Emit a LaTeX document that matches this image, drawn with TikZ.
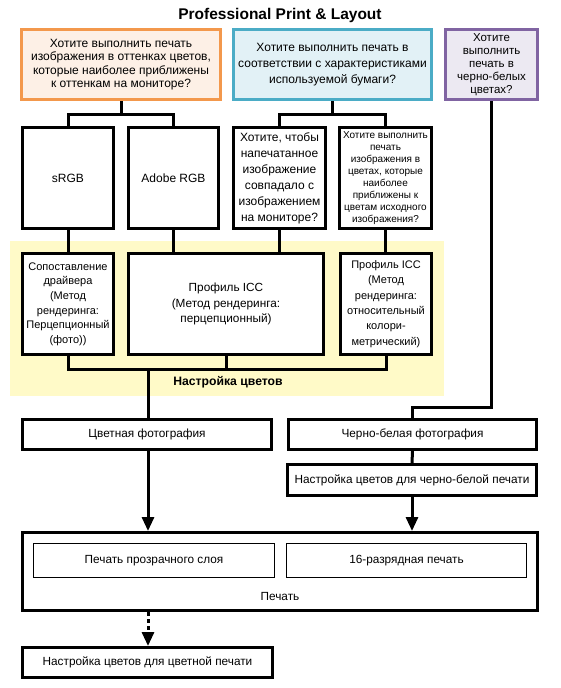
\documentclass[tikz,border=0pt]{standalone}
\usepackage{fontspec}
\setmainfont{Liberation Sans}
\usetikzlibrary{arrows.meta,positioning,calc}
\definecolor{orline}{RGB}{243,152,76}
\definecolor{orfill}{RGB}{253,240,230}
\definecolor{blline}{RGB}{75,172,198}
\definecolor{blfill}{RGB}{226,241,246}
\definecolor{puline}{RGB}{128,100,162}
\definecolor{pufill}{RGB}{236,233,242}
\definecolor{ylfill}{RGB}{255,250,200}
\tikzset{
  box/.style = {draw=black, line width=3pt, fill=white, align=center,
    inner sep=0pt, font=\fontsize{12}{13.3}\selectfont},
  qbox/.style = {box, minimum height=70pt},% question box, colour given
  tallbox/.style = {box, minimum height=101pt},% upper rows
  flatbox/.style = {box, minimum height=30pt, font=\fontsize{11.8}{13}\selectfont},
  thinbox/.style = {draw=black, line width=1pt, align=center,
    minimum height=34pt, font=\fontsize{11.8}{13}\selectfont},
  conn/.style = {draw=black, line width=3pt}
}
\begin{document}
\begin{tikzpicture}[x=1pt,y=-1pt,>={Triangle[width=12pt,length=14pt]}]
  \useasboundingbox (0,0) rectangle (560,688);
  \fill[ylfill] (10,241) rectangle (444,396);
  \node[font=\fontsize{15.5}{17}\selectfont\bfseries] (title) at (280,15) {Professional Print \& Layout};
  % questions
  \node[qbox, draw=orline, fill=orfill, minimum width=199pt] (q1) at (121,64.5)
    {Хотите выполнить печать\\изображения в оттенках цветов,\\которые наиболее приближены\\к оттенкам на мониторе?};
  \node[qbox, draw=blline, fill=blfill, minimum width=198pt,
    font=\fontsize{12}{16}\selectfont] (q2) at (332.5,64.5)
    {Хотите выполнить печать в\\соответствии с характеристиками\\используемой бумаги?};
  \node[qbox, draw=puline, fill=pufill, minimum width=92pt,
    font=\fontsize{11.5}{13}\selectfont] (q3) at (491.5,64.5)
    {Хотите\\выполнить\\печать в\\черно-белых\\цветах?};
  % second row
  \node[tallbox, minimum width=91pt] (srgb) at (68,178) {sRGB};
  \node[tallbox, minimum width=90pt] (argb) at (173.5,178) {Adobe RGB};
  \node[tallbox, minimum width=92pt, font=\fontsize{12}{16}\selectfont] (q4) at (279.5,178)
    {Хотите, чтобы\\напечатанное\\изображение\\совпадало с\\изображением\\на мониторе?};
  \node[tallbox, minimum width=92pt, font=\fontsize{10}{12}\selectfont] (q5) at (385.5,178)
    {Хотите выполнить\\печать\\изображения в\\цветах, которые\\наиболее\\приближены к\\цветам исходного\\изображения?};
  % colour settings
  \node[tallbox, minimum width=91pt, font=\fontsize{11}{14.6}\selectfont] (drv) at (68,304)
    {Сопоставление\\драйвера\\(Метод\\рендеринга:\\Перцепционный\\(фото))};
  \node[tallbox, minimum width=195pt, font=\fontsize{11.8}{15.7}\selectfont] (icc1) at (226,304)
    {Профиль ICC\\(Метод рендеринга:\\перцепционный)};
  \node[tallbox, minimum width=91pt, font=\fontsize{11}{15.3}\selectfont] (icc2) at (386,304)
    {Профиль ICC\\(Метод\\рендеринга:\\относительный\\колори-\\метрический)};
  \node[font=\fontsize{12.2}{14}\selectfont\bfseries] (setlbl) at (228,382) {Настройка цветов};
  % photo type
  \node[flatbox, minimum width=249pt] (cphoto) at (147,434.5) {Цветная фотография};
  \node[flatbox, minimum width=248pt] (bwphoto) at (412.5,434.5) {Черно-белая фотография};
  \node[flatbox, minimum width=249pt, minimum height=31pt] (bwset) at (412,480)
    {Настройка цветов для черно-белой печати};
  % print
  \node[box, minimum width=515pt, minimum height=78pt] (print) at (280,571.5) {};
  \node[thinbox, minimum width=241pt] (layer) at (154,560.5) {Печать прозрачного слоя};
  \node[thinbox, minimum width=240pt] (bits) at (406.5,560.5) {16-разрядная печать};
  \node[font=\fontsize{11.8}{13}\selectfont] (printlbl) at (280,596) {Печать};
  \node[flatbox, minimum width=250pt] (colset) at (147.5,662.5) {Настройка цветов для цветной печати};
  % connectors
  \draw[conn] (q1.south) -- ++(0,13) coordinate (j1);
  \draw[conn] (srgb.north) |- (j1) -| (argb.north);
  \draw[conn] (q2.south) -- ++(0,13) coordinate (j2);
  \draw[conn] (q4.north) |- (j2) -| (q5.north);
  \draw[conn] (srgb.south) -- (drv.north);
  \draw[conn] (argb.south) -- (argb.south |- icc1.north);
  \draw[conn] (q4.south) -- (q4.south |- icc1.north);
  \draw[conn] (q5.south) -- (q5.south |- icc2.north);
  \coordinate (j3) at (148,369);
  \draw[conn] (drv.south) |- (j3) -| (icc2.south);
  \draw[conn] (icc1.south) -- (icc1.south |- j3);
  \draw[conn] (j3) -- (j3 |- cphoto.north);
  \coordinate (j4) at (0,407);
  \draw[conn] (q3.south) |- (j4 -| bwphoto.north) -- (bwphoto.north);
  \draw[conn] (bwphoto.south) -- (bwset.north);
  \draw[conn,->] (j3 |- cphoto.south) -- (j3 |- print.north);
  \draw[conn,->] (bwset.south) -- (bwset.south |- print.north);
  \draw[conn,->,dash pattern=on 4pt off 3pt] (j3 |- print.south) -- (j3 |- colset.north);
\end{tikzpicture}
\end{document}
